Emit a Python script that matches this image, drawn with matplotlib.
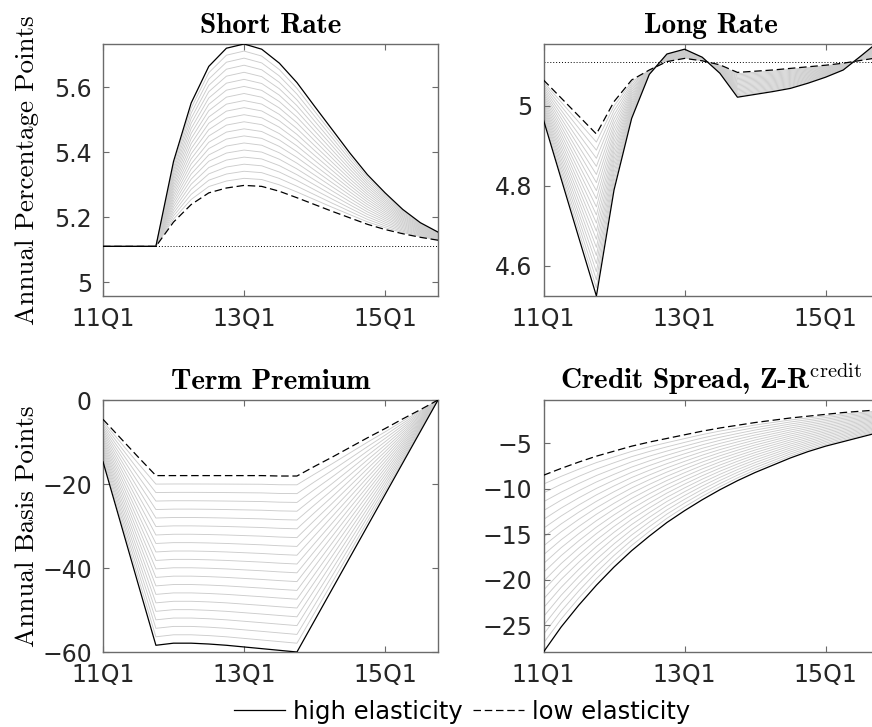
import numpy as np
import matplotlib
matplotlib.use("Agg")
import matplotlib.pyplot as plt
from matplotlib.lines import Line2D

plt.rcParams['mathtext.fontset'] = 'cm'
plt.rcParams['font.family'] = ['DejaVu Sans']

# quarters 11Q1 .. 15Q4
quarters = ['%02dQ%d' % (y, q) for y in range(11, 16) for q in range(1, 5)]
tick_quarters = ['11Q1', '13Q1', '15Q1']

# high elasticity (solid) / low elasticity (dashed)
short_high = [5.11, 5.11, 5.11, 5.11, 5.372, 5.552, 5.665, 5.721, 5.734, 5.718,
              5.675, 5.615, 5.542, 5.470, 5.398, 5.331, 5.275, 5.224, 5.183, 5.154]
short_low = [5.11, 5.11, 5.11, 5.11, 5.185, 5.239, 5.275, 5.290, 5.298, 5.295,
             5.280, 5.260, 5.239, 5.218, 5.198, 5.178, 5.162, 5.149, 5.138, 5.129]

long_high = [4.964, 4.817, 4.670, 4.524, 4.789, 4.968, 5.078, 5.129, 5.141, 5.121,
             5.081, 5.021, 5.028, 5.035, 5.043, 5.056, 5.071, 5.089, 5.124, 5.160]
long_low = [5.064, 5.019, 4.974, 4.929, 5.010, 5.064, 5.089, 5.110, 5.118, 5.112,
            5.102, 5.083, 5.086, 5.089, 5.093, 5.097, 5.101, 5.106, 5.113, 5.120]

term_high = [-14.7, -29.3, -43.9, -58.4, -57.9, -57.9, -58.1, -58.4, -58.8, -59.2,
             -59.6, -60.0, -52.5, -45.0, -37.5, -30.0, -22.5, -15.0, -7.5, 0.0]
term_low = [-4.6, -9.1, -13.6, -18.0, -18.0, -18.0, -18.0, -18.0, -18.0, -18.0,
            -18.1, -18.1, -15.8, -13.6, -11.3, -9.0, -6.8, -4.5, -2.3, 0.0]

credit_high = [-27.95, -25.2, -22.8, -20.6, -18.6, -16.8, -15.2, -13.7, -12.4, -11.2,
               -10.1, -9.1, -8.2, -7.4, -6.6, -5.9, -5.3, -4.8, -4.3, -3.8]
credit_low = [-8.5, -7.75, -7.05, -6.4, -5.85, -5.3, -4.85, -4.45, -4.05, -3.65,
              -3.3, -3.0, -2.7, -2.45, -2.2, -2.0, -1.8, -1.6, -1.45, -1.3]

baseline_rate = 5.11

# intermediate elasticities drawn in grey (share of the way from low to high)
blend = [k / 20 for k in range(1, 20)]

panels = [
    ('Short Rate', short_high, short_low, baseline_rate, (4.957, 5.734), [5, 5.2, 5.4, 5.6], ['5', '5.2', '5.4', '5.6']),
    ('Long Rate', long_high, long_low, baseline_rate, (4.524, 5.154), [4.6, 4.8, 5], ['4.6', '4.8', '5']),
    ('Term Premium', term_high, term_low, None, (-60, 0), [-60, -40, -20, 0], ['\u221260', '\u221240', '\u221220', '0']),
    ('Credit Spread, Z-R$^{\\mathrm{credit}}$', credit_high, credit_low, None, (-27.95, -0.22),
     [-25, -20, -15, -10, -5], ['\u221225', '\u221220', '\u221215', '\u221210', '\u22125']),
]

W, H = 872, 727
fig = plt.figure(figsize=(W / 100, H / 100), dpi=100)
boxes = [(103, 44), (543.5, 44), (103, 400), (543.5, 400)]
ax_w, ax_h = 335, 252

x = np.arange(len(quarters))
spine_col = '#6b6b6b'

for (title, hi, lo, base, ylim, yt, ytl), (px, py) in zip(panels, boxes):
    ax = fig.add_axes([px / W, 1 - (py + ax_h) / H, ax_w / W, ax_h / H])
    hi = np.array(hi)
    lo = np.array(lo)
    for w in blend:
        ax.plot(x, lo + w * (hi - lo), color='#cccccc', lw=0.65, zorder=1)
    ax.plot(x, hi, color='black', lw=0.9, zorder=3)
    ax.plot(x, lo, color='black', lw=0.9, ls=(0, (6, 3)), zorder=3)
    if base is not None:
        ax.axhline(base, color='black', lw=0.7, ls=(0, (1, 2)), zorder=2)
    ax.set_xlim(0, len(quarters) - 1)
    ax.set_ylim(*ylim)
    ax.set_xticks([quarters.index(q) for q in tick_quarters])
    ax.set_xticklabels(tick_quarters)
    ax.set_yticks(yt)
    ax.set_yticklabels(ytl)
    ax.tick_params(direction='in', length=4, width=0.8, color=spine_col,
                   labelsize=17, labelcolor='#262626', top=True, right=True)
    ax.tick_params(axis='x', pad=8)
    ax.tick_params(axis='y', pad=8)
    for s in ax.spines.values():
        s.set_color(spine_col)
        s.set_linewidth(1.0)
    ax.set_title(title, fontsize=21, fontfamily='cmb10', pad=8)
    if px < 200:
        lab = 'Annual Percentage Points' if py < 200 else 'Annual Basis Points'
        ax.set_ylabel(lab, fontsize=19.5, fontfamily='cmr10')
        ax.yaxis.set_label_coords(-0.19, 0.5)

handles = [Line2D([], [], color='black', lw=0.9),
           Line2D([], [], color='black', lw=0.9, ls=(0, (6, 3)))]
fig.legend(handles, ['high elasticity', 'low elasticity'], loc='center',
           bbox_to_anchor=(462 / W, 1 - 712 / H), ncol=2, frameon=False,
           fontsize=17.5, handlelength=2.1, handletextpad=0.3, columnspacing=0.45,
           borderpad=0, borderaxespad=0)

fig.savefig('out.png', dpi=100)
